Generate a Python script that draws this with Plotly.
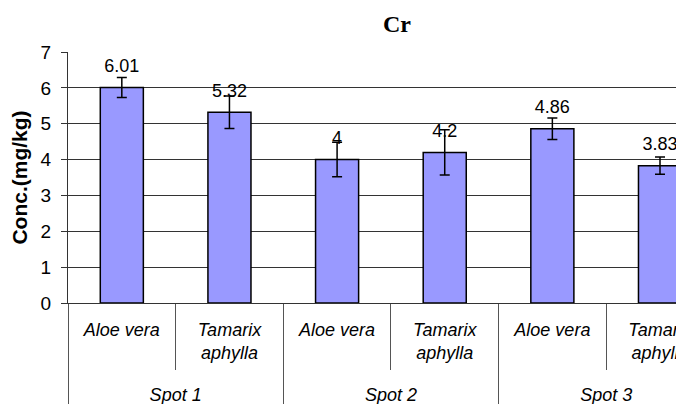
import plotly.graph_objects as go

# ── Data ───────────────────────────────────────────
spots = ["Spot 1", "Spot 1", "Spot 2", "Spot 2", "Spot 3", "Spot 3"]
species = ["Aloe vera", "Tamarix<br>aphylla", "Aloe vera", "Tamarix<br>aphylla",
           "Aloe vera", "Tamarix<br>aphylla"]
conc = [6.01, 5.32, 4.0, 4.2, 4.86, 3.83]
conc_err = [0.28, 0.45, 0.48, 0.63, 0.30, 0.24]

SANS = "Arial, Liberation Sans, sans-serif"
SERIF = "Times New Roman, Liberation Serif, serif"

# an empty tall line under the species names pushes the Spot row further down
SPACER = "<br><span style='font-size:52px'>&nbsp;</span>"
species_lbl = [s + SPACER if "<br>" in s else s for s in species]

fig = go.Figure()

fig.add_trace(go.Bar(
    x=[spots, species_lbl], y=conc, width=0.4,
    marker=dict(color="#9999ff", line=dict(color="black", width=1.5)),
    error_y=dict(type="data", array=conc_err, color="black", thickness=1.5, width=5),
    hoverinfo="skip",
))

# value labels sitting above the bar tops
fig.add_trace(go.Scatter(
    x=[spots, species_lbl], y=conc, mode="markers+text",
    text=[f"{v:g}" for v in conc], textposition="top center",
    textfont=dict(family=SANS, size=18, color="black"),
    marker=dict(size=16, opacity=0), hoverinfo="skip",
))

# page body has an 8px margin, so the figure is drawn 8px in from the corner
fig.update_layout(
    width=676, height=396,
    paper_bgcolor="white", plot_bgcolor="white",
    showlegend=False,
    margin=dict(l=60, r=0, t=44, b=101, autoexpand=False),
    title=dict(text="Cr", x=389 / 676, xanchor="center", y=1 - 16 / 396, yanchor="middle",
               font=dict(family=SERIF, size=24, color="black", weight="bold")),
)

fig.update_xaxes(
    type="multicategory", range=[-0.5, 5.223],
    showline=True, linecolor="#333", linewidth=1,
    ticks="outside", tickson="boundaries", ticklen=66, tickcolor="#555", tickwidth=1,
    ticklabelstandoff=10,
    showdividers=True, dividercolor="#555", dividerwidth=1,
    tickfont=dict(family=SANS, size=18, color="black", style="italic"),
    automargin=False,
)

fig.update_yaxes(
    range=[0, 7], dtick=1, showgrid=True, gridcolor="#333", gridwidth=1,
    showline=True, linecolor="#333", linewidth=1,
    ticks="outside", ticklen=6, tickcolor="#333", ticklabelstandoff=6,
    tickfont=dict(family=SANS, size=19, color="black"),
    zeroline=False, automargin=False,
    title=dict(text="Conc.(mg/kg)", standoff=9,
               font=dict(family=SANS, size=21, color="black", weight="bold")),
)

fig.write_html("out.html")
